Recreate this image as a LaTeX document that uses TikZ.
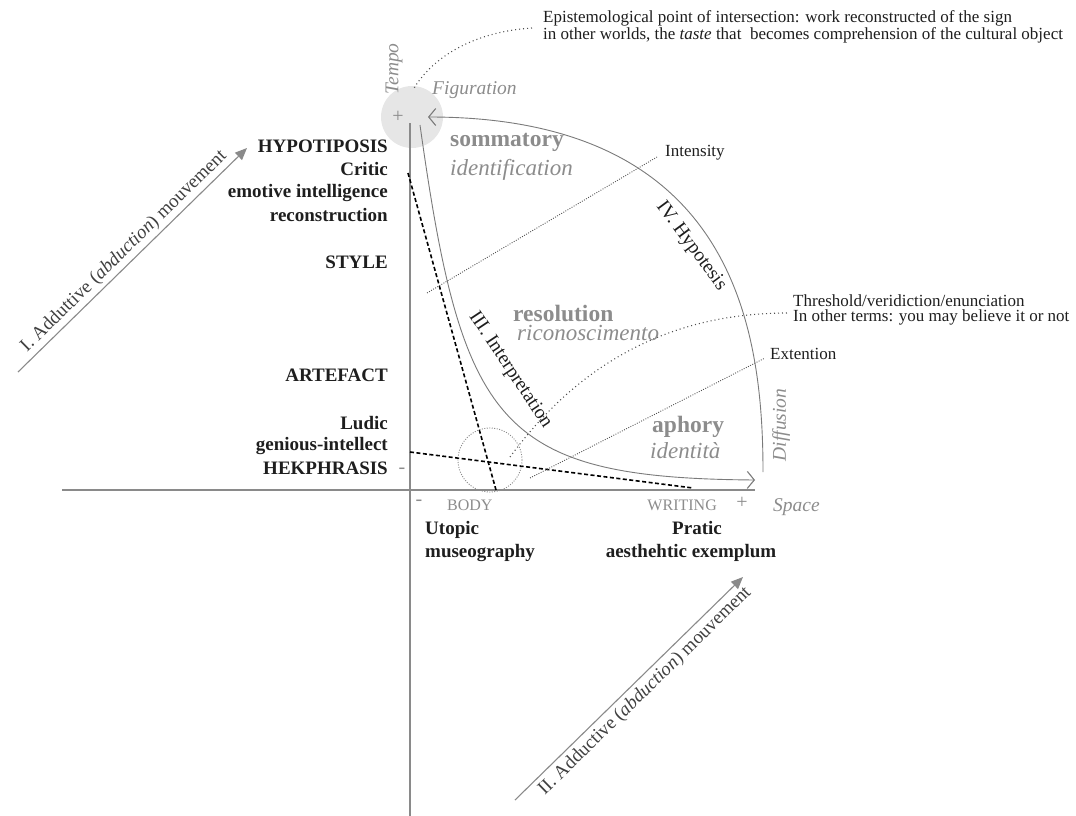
\documentclass[tikz,border=0pt]{standalone}
\usepackage{fontspec}
\setmainfont{Liberation Serif}
\usetikzlibrary{arrows.meta}
\definecolor{axisgray}{HTML}{8A8A8A}
\definecolor{linegray}{HTML}{7A7A7A}
\definecolor{txtgray}{HTML}{8C8C8C}
\definecolor{dotgray}{HTML}{505050}
\definecolor{ink}{HTML}{1E1E1E}
\definecolor{blob}{HTML}{E6E6E6}
\begin{document}
\begin{tikzpicture}[x=1pt,y=-1pt,
  axisline/.style={draw=axisgray,line width=1.8pt},
  thincurve/.style={draw=linegray,line width=0.9pt},
  barb/.style={-{Straight Barb[length=7pt,width=17pt,line width=1.1pt]}},
  dashline/.style={draw=black,line width=1.6pt,dash pattern=on 4pt off 2.5pt},
  finedots/.style={draw=dotgray,line width=0.9pt,dash pattern=on 0.9pt off 1.5pt},
  bigdots/.style={draw=dotgray,line width=1.1pt,dash pattern=on 1pt off 3pt},
  circdots/.style={draw=axisgray,line width=0.9pt,dash pattern=on 1pt off 1.5pt},
  abarrow/.style={draw=axisgray,line width=1.1pt,-{Triangle[length=12pt,width=10pt]}},
  lab/.style={font=\fontsize{19}{22}\selectfont\bfseries,text=ink,inner sep=0pt},
  zone/.style={font=\fontsize{23.5}{26}\selectfont\bfseries,text=txtgray,inner sep=0pt},
  zonei/.style={font=\fontsize{23}{26}\selectfont\itshape,text=txtgray,inner sep=0pt},
  grayit/.style={font=\fontsize{19.5}{22}\selectfont\itshape,text=txtgray,inner sep=0pt},
  graycap/.style={font=\fontsize{16}{18}\selectfont,text=txtgray,inner sep=0pt},
  sign/.style={font=\fontsize{20}{22}\selectfont,text=txtgray,inner sep=0pt},
  note/.style={font=\fontsize{17}{14.5}\selectfont,text=ink,inner sep=0pt,align=left},
  phase/.style={font=\fontsize{19.5}{22}\selectfont,text=ink,inner sep=0pt},
  movelab/.style={font=\fontsize{19}{22}\selectfont,text=ink!85,inner sep=0pt}
]
\useasboundingbox (0,0) rectangle (1076,816);

% grey blob at the top of the time axis
\fill[blob] (412,117) circle (31);

% coordinates
\coordinate (vtop) at (410,123);
\coordinate (vbot) at (410,816);
\coordinate (hleft) at (62,490);
\coordinate (hright) at (755,490);
\coordinate (arcS) at (763,472);
\coordinate (arcE) at (428,117);
\coordinate (hypS) at (420,125);
\coordinate (hypE) at (755,480);
\coordinate (dA1) at (408,173);
\coordinate (dA2) at (496,490);
\coordinate (dB1) at (410,452);
\coordinate (dB2) at (693,488);
\coordinate (intS) at (427,293);
\coordinate (intE) at (657,157);
\coordinate (extS) at (530,478);
\coordinate (extE) at (765,358);
\coordinate (thS) at (510,457);
\coordinate (thE) at (788,313);
\coordinate (epS) at (532,28);
\coordinate (epE) at (413,90);
\coordinate (mIs) at (18,372);
\coordinate (mIe) at (247,148);
\coordinate (mIIs) at (515,800);
\coordinate (mIIe) at (743,577);

% axes
\draw[axisline] (vtop) -- (vbot);
\draw[axisline] (hleft) -- (hright);

% curves
\draw[thincurve,barb] (arcS) .. controls (763,327) and (733,117) .. (arcE);
\draw[thincurve,barb] (hypS) .. controls (462,425) and (498,478) .. (hypE);

% dashed lines
\draw[dashline] (dA1) -- (dA2);
\draw[dashline] (dB1) -- (dB2);

% dotted
\draw[circdots] (490,460) circle (32);
\draw[finedots] (intS) -- (intE);
\draw[finedots] (extS) -- (extE);
\draw[bigdots] (thS) .. controls (585,355) and (680,313) .. (thE);
\draw[bigdots] (epS) .. controls (470,32) and (430,60) .. (epE);

% abduction arrows
\draw[abarrow] (mIs) -- node[sloped,above=3pt,movelab] {I. Adduttive (\textit{abduction}) mouvement} (mIe);
\draw[abarrow] (mIIs) -- node[sloped,below=4pt,pos=0.53,movelab] {II. Adductive (\textit{abduction}) mouvement} (mIIe);

% left labels
\node[lab,anchor=east] (hyp) at (388,146) {HYPOTIPOSIS};
\node[lab,anchor=east] (cri) at (388,169) {Critic};
\node[lab,anchor=east] (emo) at (388,193) {emotive intelligence};
\node[lab,anchor=east] (rec) at (388,215) {reconstruction};
\node[lab,anchor=east] (sty) at (388,262) {STYLE};
\node[lab,anchor=east] (art) at (388,375) {ARTEFACT};
\node[lab,anchor=east] (lud) at (388,423) {Ludic};
\node[lab,anchor=east] (gen) at (388,446) {genious-intellect};
\node[lab,anchor=east] (hek) at (388,468) {HEKPHRASIS};

% bottom labels
\node[lab,anchor=west] (uto) at (425,530) {Utopic};
\node[lab,anchor=west] (mus) at (425,553) {museography};
\node[lab] (pra) at (697,528) {Pratic};
\node[lab] (aes) at (691,553) {aesthehtic exemplum};

% axis marks
\node[sign] (plusT) at (398,117) {+};
\node[sign] (plusW) at (742,503) {+};
\node[sign] (minL) at (402,471) {-};
\node[sign] (minB) at (419,503) {-};
\node[graycap,anchor=west] (body) at (447,505) {BODY};
\node[graycap,anchor=east] (writ) at (717,505) {WRITING};
\node[grayit,anchor=west] (spa) at (773,507) {Space};
\node[grayit,rotate=90] (tem) at (394,69) {Tempo};
\node[grayit,anchor=west] (fig) at (432,90) {Figuration};
\node[grayit,rotate=90] (dif) at (781,425) {Diffusion};

% zones
\node[zone,anchor=west] (som) at (450,142) {sommatory};
\node[zonei,anchor=west] (ide) at (450,170) {identification};
\node[zone,anchor=west] (res) at (513,313) {resolution};
\node[zonei,anchor=west] (ric) at (517,333) {riconoscimento};
\node[zone,anchor=west] (aph) at (652,427) {aphory};
\node[zonei,anchor=west] (idt) at (650,451) {identità};

% phases
\node[phase,rotate=-53.5] (ph4) at (691,246) {IV. Hypotesis};
\node[phase,rotate=-56.3] (ph3) at (510,370) {III. Interpretation};

% notes
\node[note,anchor=west] (epi) at (543,27) {Epistemological point of intersection: work reconstructed of the sign\\in other worlds, the \textit{taste} that\ \ becomes comprehension of the cultural object};
\node[note,anchor=west] (thr) at (793,310) {Threshold/veridiction/enunciation\\In other terms: you may believe it or not};
\node[note,anchor=west] (ints) at (665,153) {Intensity};
\node[note,anchor=west] (ext) at (770,354) {Extention};
\end{tikzpicture}
\end{document}
